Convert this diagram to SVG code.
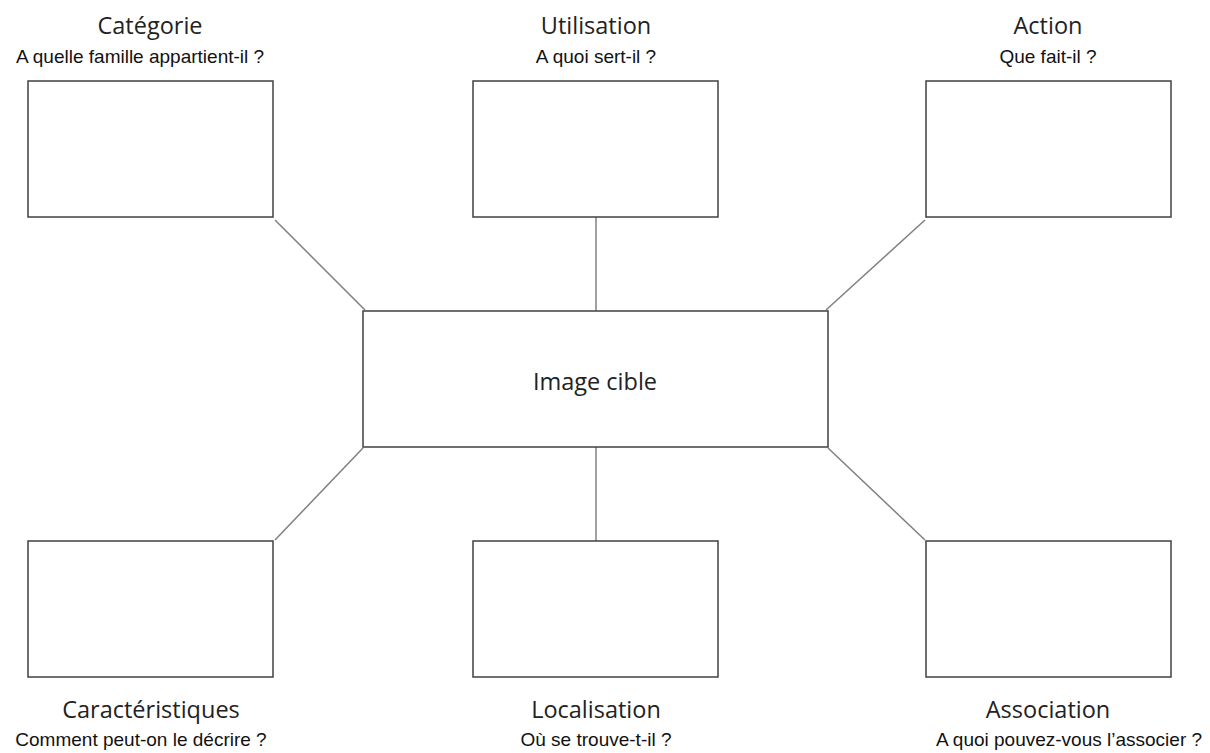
<svg xmlns="http://www.w3.org/2000/svg" width="1210" height="753" viewBox="0 0 1210 753">
<style>
.box{fill:#fff;stroke:#404040;stroke-width:1.5}
.conn line{stroke:#808080;stroke-width:1.5}
.t{font-family:"Open Sans","Noto Sans",sans-serif;font-size:23.5px;fill:#222;text-anchor:middle}
.s{font-family:"Liberation Sans",Arial,sans-serif;font-size:19px;fill:#111;text-anchor:middle}
</style>
<rect width="1210" height="753" fill="#fff"/>
<g id="connectors" class="conn">
<line x1="275" y1="220" x2="365" y2="310"/>
<line x1="596" y1="217" x2="596" y2="311"/>
<line x1="925" y1="220" x2="826" y2="310"/>
<line x1="363" y1="448" x2="275" y2="540"/>
<line x1="596" y1="447" x2="596" y2="541"/>
<line x1="828" y1="448" x2="925" y2="540"/>
</g>
<g id="center"><rect class="box" x="363" y="311" width="465" height="136"/><text class="t" x="595" y="390">Image cible</text></g>
<g id="categorie"><rect class="box" x="28" y="81" width="245" height="136"/><text class="t" x="150" y="34">Catégorie</text><text class="s" x="140" y="63">A quelle famille appartient-il ?</text></g>
<g id="utilisation"><rect class="box" x="473" y="81" width="245" height="136"/><text class="t" x="596" y="34">Utilisation</text><text class="s" x="596" y="63">A quoi sert-il ?</text></g>
<g id="action"><rect class="box" x="926" y="81" width="245" height="136"/><text class="t" x="1048" y="34">Action</text><text class="s" x="1048" y="63">Que fait-il ?</text></g>
<g id="caracteristiques"><rect class="box" x="28" y="541" width="245" height="136"/><text class="t" x="151" y="718">Caractéristiques</text><text class="s" x="141" y="746">Comment peut-on le décrire ?</text></g>
<g id="localisation"><rect class="box" x="473" y="541" width="245" height="136"/><text class="t" x="596" y="718">Localisation</text><text class="s" x="596" y="746">Où se trouve-t-il ?</text></g>
<g id="association"><rect class="box" x="926" y="541" width="245" height="136"/><text class="t" x="1048" y="718">Association</text><text class="s" x="1069" y="746">A quoi pouvez-vous l’associer ?</text></g>
</svg>
